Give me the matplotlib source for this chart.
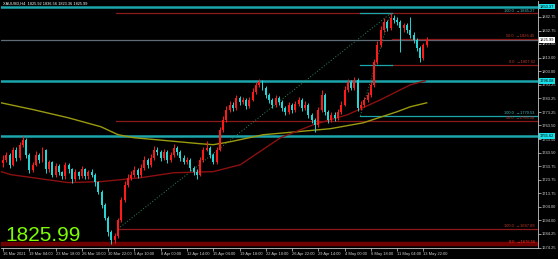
import numpy as np
import matplotlib
matplotlib.use("Agg")
import matplotlib.pyplot as plt

# =====================================================
# DATA (XAUUSD H4)
# =====================================================

first_open = 1736.0

closes = [
    1738.4, 1742.1, 1734.8, 1745.7, 1739.9, 1749.4, 1753.0, 1742.1, 1731.1, 1734.8,
    1742.1, 1738.4, 1745.7, 1731.3, 1736.4, 1727.6, 1733.5, 1729.1, 1726.2, 1734.9,
    1731.3, 1724.0, 1729.1, 1726.2, 1731.3, 1726.2, 1729.1, 1727.6, 1721.8, 1715.1,
    1705.6, 1696.1, 1685.9, 1680.1, 1683.0, 1694.7, 1709.3, 1720.2, 1725.3, 1727.5,
    1731.1, 1727.5, 1732.6, 1738.4, 1734.8, 1739.9, 1745.7, 1744.3, 1739.9, 1744.3,
    1738.4, 1742.1, 1747.2, 1744.3, 1739.9, 1737.0, 1738.4, 1732.6, 1729.7, 1727.5,
    1738.4, 1745.7, 1747.2, 1742.1, 1737.0, 1745.7, 1760.3, 1767.6, 1774.9, 1778.6,
    1776.4, 1783.7, 1780.7, 1782.2, 1777.8, 1782.2, 1788.0, 1793.1, 1795.3, 1791.0,
    1785.9, 1782.2, 1778.6, 1783.7, 1780.7, 1776.4, 1773.5, 1778.6, 1774.9, 1779.3,
    1782.2, 1776.4, 1778.6, 1771.3, 1767.6, 1764.0, 1774.9, 1785.9, 1773.5, 1767.6,
    1771.3, 1769.1, 1773.5, 1778.6, 1789.5, 1795.3, 1791.0, 1796.8, 1776.4, 1778.6,
    1782.2, 1785.9, 1793.1, 1809.9, 1822.3, 1833.3, 1839.1, 1834.7, 1842.0, 1840.6,
    1839.1, 1834.7, 1836.9, 1833.3, 1829.6, 1826.0, 1820.1, 1812.8, 1822.3, 1825.99,
]

highs = [
    1741.5, 1744.0, 1743.5, 1748.0, 1747.5, 1751.0, 1755.5, 1754.0, 1743.0, 1736.5,
    1744.5, 1743.5, 1748.0, 1746.5, 1738.5, 1737.5, 1736.0, 1735.0, 1730.5, 1737.0,
    1736.0, 1732.5, 1731.5, 1730.5, 1733.5, 1732.5, 1731.0, 1731.5, 1728.5, 1723.0,
    1716.5, 1707.0, 1697.0, 1687.0, 1685.0, 1696.0, 1711.0, 1722.5, 1728.0, 1730.5,
    1733.5, 1732.5, 1735.0, 1741.0, 1740.0, 1742.5, 1748.5, 1747.5, 1745.5, 1746.5,
    1745.5, 1744.0, 1750.0, 1748.5, 1745.5, 1741.5, 1740.5, 1739.5, 1734.0, 1731.5,
    1740.5, 1748.0, 1752.0, 1748.5, 1743.0, 1747.5, 1762.5, 1770.0, 1777.5, 1781.0,
    1780.5, 1786.0, 1785.0, 1784.5, 1783.5, 1784.0, 1790.5, 1795.5, 1797.5, 1796.5,
    1792.0, 1787.0, 1783.5, 1786.0, 1785.0, 1782.0, 1778.0, 1780.5, 1780.0, 1781.5,
    1784.5, 1783.5, 1781.0, 1779.5, 1772.5, 1769.0, 1777.0, 1789.0, 1787.0, 1775.0,
    1773.5, 1773.0, 1775.5, 1781.0, 1792.0, 1797.5, 1796.5, 1799.0, 1798.0, 1781.0,
    1784.5, 1788.0, 1795.5, 1812.0, 1825.0, 1836.0, 1842.0, 1840.5, 1845.27, 1844.0,
    1842.5, 1840.5, 1838.5, 1838.0, 1842.5, 1831.5, 1827.5, 1821.5, 1824.0, 1828.0,
]

lows = [
    1733.0, 1736.5, 1732.0, 1733.5, 1737.5, 1738.5, 1747.5, 1740.0, 1728.5, 1729.5,
    1733.5, 1736.0, 1737.0, 1729.0, 1729.5, 1725.5, 1726.0, 1727.0, 1724.0, 1724.5,
    1728.5, 1721.5, 1722.5, 1724.0, 1725.0, 1724.0, 1724.5, 1725.5, 1719.5, 1713.0,
    1703.0, 1694.0, 1683.0, 1677.0, 1677.5, 1681.5, 1693.0, 1707.5, 1718.5, 1723.5,
    1725.5, 1725.0, 1726.0, 1731.0, 1732.5, 1733.0, 1738.5, 1742.0, 1737.5, 1738.0,
    1736.0, 1737.0, 1740.5, 1742.0, 1737.5, 1735.0, 1735.5, 1730.5, 1727.0, 1724.5,
    1726.5, 1737.0, 1744.5, 1740.0, 1735.0, 1735.5, 1744.5, 1758.5, 1766.0, 1773.0,
    1774.0, 1775.0, 1778.5, 1779.0, 1775.5, 1776.5, 1781.0, 1786.5, 1791.5, 1789.0,
    1783.5, 1780.0, 1776.0, 1777.0, 1778.5, 1774.0, 1771.0, 1772.0, 1772.5, 1773.5,
    1778.0, 1774.0, 1775.0, 1769.0, 1765.5, 1758.5, 1762.0, 1773.0, 1771.0, 1765.0,
    1766.0, 1767.0, 1767.5, 1772.0, 1777.5, 1788.0, 1789.0, 1789.5, 1774.0, 1774.5,
    1777.0, 1780.5, 1784.5, 1791.5, 1808.0, 1820.5, 1831.5, 1832.5, 1833.0, 1838.5,
    1836.5, 1817.0, 1832.0, 1831.0, 1827.5, 1824.0, 1818.0, 1810.0, 1811.5, 1820.5,
]

date_labels = [
    "16 Mar 2021", "19 Mar 04:00", "23 Mar 18:00", "26 Mar 10:00", "30 Mar 22:00",
    "5 Apr 10:00", "8 Apr 00:00", "12 Apr 14:00", "15 Apr 04:00", "19 Apr 18:00",
    "22 Apr 10:00", "26 Apr 22:00", "29 Apr 14:00", "4 May 00:00", "6 May 18:00",
    "11 May 04:00", "13 May 22:00",
]
bars_per_label = 8

# moving averages, sampled along the lines
ma_slow_bar = [-0.6, 9.4, 19.8, 29.8, 35, 39.8, 50, 60, 64, 69.3, 79.3, 89.7, 99.7, 109.7, 120, 124, 129]
ma_slow_val = [1780.0, 1774.9, 1769.1, 1762.5, 1756.7, 1754.5, 1752.3, 1750.1, 1749.4, 1751.6,
               1756.7, 1758.9, 1761.1, 1765.4, 1773.5, 1777.1, 1780.0]
ma_fast_bar = [-0.6, 2.4, 19.8, 29.8, 42, 52, 64, 72.3, 74.5, 84.5, 94.5, 104.9, 114.9, 124, 128.6]
ma_fast_val = [1729.7, 1727.5, 1721.7, 1722.4, 1725.3, 1728.9, 1729.7, 1734.8, 1738.4, 1754.5,
               1764.0, 1771.3, 1782.2, 1793.1, 1796.1]

price_ticks = [1842.75, 1832.75, 1823.00, 1813.00, 1803.00, 1793.25, 1783.25, 1773.25,
               1763.50, 1753.50, 1743.50, 1733.75, 1723.75, 1713.75, 1704.00, 1694.00,
               1684.25, 1674.25]

sr_levels = [1850.37, 1796.08, 1755.62]
bid_price = 1825.99
ohlc_text = "XAUUSD,H4  1825.92 1836.56 1823.36 1825.99"

# fibonacci lines: start bar, end bar (None = right edge), price, label
fib_red = [
    (34.3, None, 1845.27, ""),
    (34.3, None, 1766.58, "50.0  \u21921766.58"),
    (35.0, None, 1687.89, "100.0  \u21921687.89"),
    (118.5, None, 1826.45, "50.0  \u21921826.45"),
    (118.5, None, 1807.62, "0.0  \u21921807.62"),
]
fib_cyan = [
    (108.8, 118.5, 1845.27, "100.0  \u21921845.27"),
    (108.8, 118.5, 1807.62, ""),
    (108.8, None, 1770.53, "100.0  \u21921770.53"),
]
bottom_level = 1676.56
bottom_label = "0.0  \u21921676.56"

trend_lines = [
    (35.0, 1687.89, 118.0, 1845.27),
    (108.8, 1770.53, 118.0, 1845.27),
]

# =====================================================
# STYLE
# =====================================================

BULL = "#ff1a1a"
BEAR = "#26d4d4"
SR = "#1ba6ad"
FIB = "#8b1a1a"
X_MIN, X_MAX = -0.6, 162.9
Y_MIN, Y_MAX = 1673.9, 1854.4
SMALL = dict(family="Liberation Sans", fontsize=2.9)

# =====================================================
# FIGURE
# =====================================================

fig = plt.figure(figsize=(5.58, 2.59), dpi=100, facecolor="black")
ax = fig.add_axes([0.002, 1 - 248 / 259, 538 / 558 - 0.002, 247 / 259])
ax.set_facecolor("black")
ax.set_xlim(X_MIN, X_MAX)
ax.set_ylim(Y_MIN, Y_MAX)

# horizontal support / resistance
for lvl in sr_levels:
    ax.axhline(lvl, color=SR, lw=1.8, zorder=2)

# bid line
ax.axhline(bid_price, color="#5d6b78", lw=0.9, zorder=2)

# bottom band
ax.axhline(bottom_level, color="#6e0000", lw=3.2, zorder=2)
ax.text(X_MAX - 1, bottom_level + 0.6, bottom_label, color="#ff3020",
        ha="right", va="bottom", zorder=6, **SMALL)

# fib lines
for x0, x1, lvl, lab in fib_red:
    ax.plot([x0, X_MAX if x1 is None else x1], [lvl, lvl], color=FIB, lw=0.9, zorder=2)
    if lab:
        ax.text(X_MAX - 1, lvl + 0.6, lab, color="#c0392b",
                ha="right", va="bottom", zorder=6, **SMALL)
for x0, x1, lvl, lab in fib_cyan:
    ax.plot([x0, X_MAX if x1 is None else x1], [lvl, lvl], color=SR, lw=0.9, zorder=2)
    if lab:
        ax.text(X_MAX - 1, lvl + 0.6, lab, color="#3fb8bd",
                ha="right", va="bottom", zorder=6, **SMALL)

# trend lines
for x0, y0, x1, y1 in trend_lines:
    ax.plot([x0, x1], [y0, y1], color="#2e8b57", lw=0.7, ls=(0, (1, 2)), zorder=2)

# moving averages
ax.plot(ma_slow_bar, ma_slow_val, color="#9a9a10", lw=1.0, zorder=3)
ax.plot(ma_fast_bar, ma_fast_val, color="#8b1010", lw=1.0, zorder=3)

# candles
closes_a = np.array(closes)
opens_a = np.array([first_open] + closes[:-1])
idx = np.arange(len(closes_a))
up = closes_a >= opens_a
colors = np.where(up, BULL, BEAR)

ax.vlines(idx, lows, highs, colors=colors, lw=0.7, zorder=4)
ax.bar(idx, np.abs(closes_a - opens_a), bottom=np.minimum(opens_a, closes_a),
       width=0.6, color=colors, linewidth=0, zorder=5)

# =====================================================
# AXES
# =====================================================

for side in ["left", "top"]:
    ax.spines[side].set_visible(False)
for side in ["right", "bottom"]:
    ax.spines[side].set_color("#c8c8c8")
    ax.spines[side].set_linewidth(0.6)

ax.yaxis.tick_right()
ax.set_yticks(price_ticks)
ax.set_yticklabels([f"{p:.2f}" for p in price_ticks], **SMALL)
ax.tick_params(axis="y", colors="#d0d0d0", length=2, width=0.5, pad=1)

ax.set_xticks(np.arange(len(date_labels)) * bars_per_label)
ax.set_xticklabels(date_labels, ha="left", **SMALL)
ax.tick_params(axis="x", colors="#d0d0d0", length=2, width=0.5, pad=1)

# price boxes on the right scale
for lvl in sr_levels:
    ax.text(1.004, lvl, f"{lvl:.2f}", transform=ax.get_yaxis_transform(),
            color="black", va="center", ha="left", zorder=7,
            bbox=dict(boxstyle="square,pad=0.2", fc="#18e0e8", ec="none"),
            clip_on=False, **SMALL)
ax.text(1.004, bid_price, f"{bid_price:.2f}", transform=ax.get_yaxis_transform(),
        color="black", va="center", ha="left", zorder=7,
        bbox=dict(boxstyle="square,pad=0.2", fc="white", ec="none"),
        clip_on=False, **SMALL)

# header and big price
ax.text(0.004, 0.996, ohlc_text, transform=ax.transAxes, color="white",
        fontsize=2.8, family="Liberation Sans", ha="left", va="top", zorder=7)
ax.text(0.008, 0.03, f"{bid_price:.2f}", transform=ax.transAxes,
        color="#7cfc00", fontsize=15, family="Liberation Sans",
        ha="left", va="baseline", zorder=7)

fig.savefig("out.png", dpi=100, facecolor="black")
plt.close(fig)
